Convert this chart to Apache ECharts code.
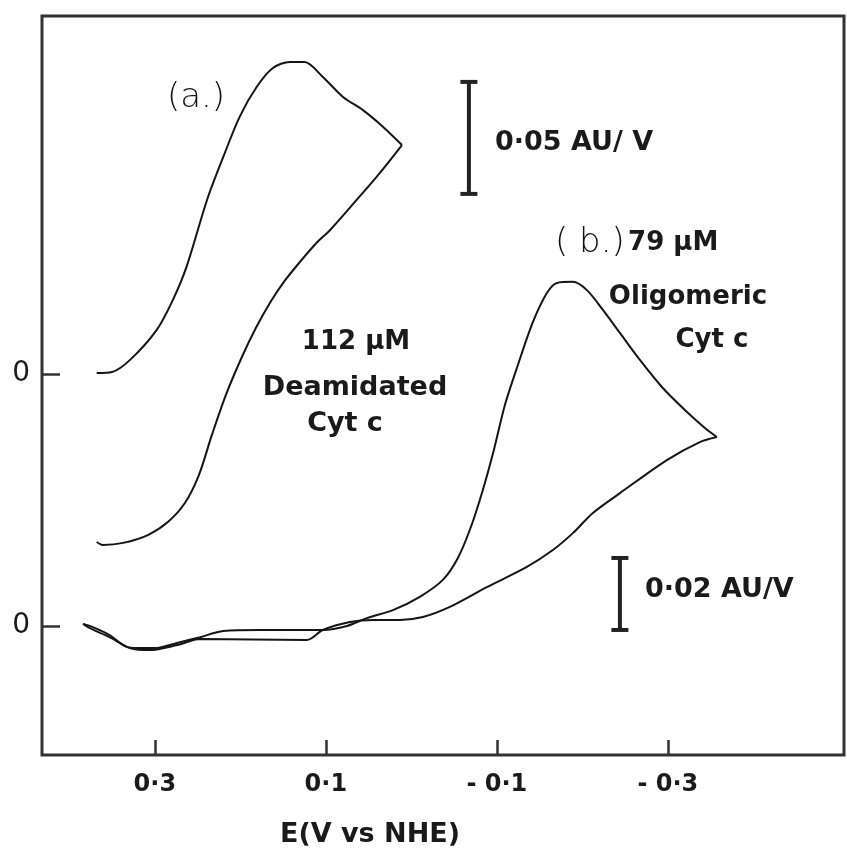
<!DOCTYPE html>
<html>
<head>
<meta charset="utf-8">
<script src="https://cdn.jsdelivr.net/npm/echarts@6/dist/echarts.min.js"></script>
<style>
html,body{margin:0;padding:0;background:#fff;}
#chart{width:847px;height:862px;}
</style>
</head>
<body>
<div id="chart"></div>
<script>
// ---- data (E in V vs NHE, derivative absorbance in AU/V) ----
const potentialTicks = [0.3, 0.1, -0.1, -0.3];
const tickLabels = ['0·3', '0·1', '- 0·1', '- 0·3'];

// (a) 112 uM deamidated cyt c : forward scan (positive -> negative)
const aFwdE = [0.368, 0.350, 0.329, 0.298, 0.279, 0.263, 0.239, 0.220, 0.201, 0.181, 0.162, 0.142, 0.125, 0.1035, 0.080, 0.057, 0.033, 0.011];
const aFwdV = [0.0004, 0.0009, 0.0063, 0.0196, 0.0330, 0.0478, 0.0777, 0.0969, 0.1147, 0.1281, 0.1366, 0.1393, 0.1393, 0.1326, 0.1237, 0.1179, 0.1103, 0.1022];
// (a) return scan
const aRetE = [0.011, 0.037, 0.064, 0.095, 0.111, 0.1304, 0.1491, 0.1655, 0.1819, 0.1982, 0.2170, 0.2333, 0.2485, 0.2649, 0.2848, 0.3082, 0.337, 0.361, 0.368];
const aRetV = [0.1022, 0.0897, 0.0777, 0.0643, 0.0585, 0.0500, 0.0411, 0.0317, 0.0205, 0.0076, -0.0094, -0.0272, -0.0451, -0.0576, -0.0661, -0.0719, -0.0754, -0.0763, -0.0750];

// (b) 79 uM oligomeric cyt c : forward scan
const bFwdE = [0.384, 0.3725, 0.353, 0.333, 0.321, 0.298, 0.274, 0.247, 0.220, 0.177, 0.1035, 0.0754, 0.052, 0.0216, -0.0099, -0.0368, -0.0544, -0.0696, -0.0836, -0.0965, -0.1094, -0.1246, -0.1421, -0.1585, -0.1702, -0.1889, -0.2053, -0.2240, -0.2439, -0.2673, -0.2930, -0.3199, -0.3433, -0.3573];
const bFwdV = [0.0006, -0.0003, -0.0025, -0.0058, -0.0061, -0.0061, -0.0047, -0.0031, -0.0014, -0.0011, -0.0011, 0.0000, 0.0022, 0.0044, 0.0081, 0.0128, 0.0189, 0.0275, 0.0378, 0.0489, 0.0614, 0.0725, 0.0844, 0.0925, 0.0953, 0.0956, 0.0933, 0.0878, 0.0814, 0.0739, 0.0664, 0.0600, 0.0550, 0.0525];
// (b) return scan
const bRetE = [-0.3573, -0.3374, -0.2988, -0.2439, -0.2123, -0.1889, -0.1655, -0.1351, -0.0883, -0.0450, -0.0135, 0.0135, 0.0450, 0.0719, 0.1035, 0.1222, 0.247, 0.274, 0.3058, 0.3292, 0.353, 0.376, 0.384];
const bRetV = [0.0525, 0.0511, 0.0461, 0.0369, 0.0314, 0.0258, 0.0211, 0.0164, 0.0108, 0.0053, 0.0025, 0.0017, 0.0017, 0.0011, -0.0011, -0.0039, -0.0036, -0.0053, -0.0067, -0.0061, -0.0031, -0.0006, 0.0006];

// scale bar lengths (AU/V)
const scaleBarA = 0.05;
const scaleBarB = 0.02;

// ---- build chart ----
function zip(xs, ys) { return xs.map((x, i) => [x, ys[i]]); }

const INK = '#151515';
const FRAME = '#333';
const boldFont = 'DejaVu Sans';

const chart = echarts.init(document.getElementById('chart'));

const curveStyle = { color: INK, width: 2 };
function curve(name, e, v, yIdx) {
  return {
    name: name, type: 'line', xAxisIndex: 0, yAxisIndex: yIdx,
    data: zip(e, v), showSymbol: false, smooth: 0.3,
    lineStyle: curveStyle, silent: true, animation: false
  };
}
function scaleBar(e, v0, len, yIdx) {
  return {
    type: 'line', xAxisIndex: 0, yAxisIndex: yIdx,
    data: [[e, v0], [e, v0 + len]],
    symbol: 'rect', symbolSize: [17, 4], showSymbol: true,
    itemStyle: { color: '#222' },
    lineStyle: { color: '#222', width: 4 }, silent: true, animation: false
  };
}

const yTickCommon = {
  type: 'value', position: 'left', splitLine: { show: false },
  axisLine: { show: false, onZero: false },
  axisTick: { show: true, inside: true, length: 18, customValues: [0], lineStyle: { color: FRAME, width: 2.5 } },
  axisLabel: { customValues: [0], formatter: () => '0', margin: 12, fontSize: 28, fontFamily: 'DejaVu Sans', color: '#1a1a1a' }
};

const option = {
  backgroundColor: '#fff',
  animation: false,
  grid: { left: 42, right: 3, top: 16, bottom: 107, show: true, borderColor: FRAME, borderWidth: 3, backgroundColor: 'transparent' },
  xAxis: {
    type: 'value', inverse: true, min: -0.506, max: 0.432,
    splitLine: { show: false }, axisLine: { show: false, onZero: false },
    axisTick: { show: true, inside: true, length: 15, customValues: potentialTicks, lineStyle: { color: FRAME, width: 2.5 } },
    axisLabel: {
      customValues: potentialTicks, margin: 18,
      formatter: function (v) {
        for (let i = 0; i < potentialTicks.length; i++) if (Math.abs(potentialTicks[i] - v) < 1e-6) return tickLabels[i];
        return '';
      },
      fontSize: 24, fontWeight: 'bold', fontFamily: boldFont, color: '#1a1a1a'
    }
  },
  yAxis: [
    Object.assign({}, yTickCommon, { min: -0.035833, max: 0.169444 }), // (b)
    Object.assign({}, yTickCommon, { min: -0.170089, max: 0.159821 })  // (a)
  ],
  series: [
    curve('a forward', aFwdE, aFwdV, 1),
    curve('a return', aRetE, aRetV, 1),
    curve('b forward', bFwdE, bFwdV, 0),
    curve('b return', bRetE, bRetV, 0),
    scaleBar(-0.0673, 0.0804, scaleBarA, 1),
    scaleBar(-0.2439, -0.0011, scaleBarB, 0)
  ],
  graphic: [
    { type: 'text', x: 196, y: 98, style: { text: '(a.)', font: '300 34px "DejaVu Sans"', fill: '#111', align: 'center', verticalAlign: 'middle' } },
    { type: 'text', x: 495, y: 143, style: { text: '0·05 AU/ V', font: 'bold 27px "DejaVu Sans"', fill: '#1a1a1a', align: 'left', verticalAlign: 'middle' } },
    { type: 'text', x: 555, y: 243, style: {
        text: '{t|( b.)} {b|79 µM}', align: 'left', verticalAlign: 'middle',
        rich: {
          t: { fontSize: 34, fontWeight: 300, fontFamily: 'DejaVu Sans', fill: '#111' },
          b: { fontSize: 26, fontWeight: 'bold', fontFamily: 'DejaVu Sans', fill: '#1a1a1a' }
        }
    } },
    { type: 'text', x: 688, y: 297, style: { text: 'Oligomeric', font: 'bold 26px "DejaVu Sans"', fill: '#1a1a1a', align: 'center', verticalAlign: 'middle' } },
    { type: 'text', x: 712, y: 340, style: { text: 'Cyt c', font: 'bold 26px "DejaVu Sans"', fill: '#1a1a1a', align: 'center', verticalAlign: 'middle' } },
    { type: 'text', x: 356, y: 342, style: { text: '112 µM', font: 'bold 26px "DejaVu Sans"', fill: '#1a1a1a', align: 'center', verticalAlign: 'middle' } },
    { type: 'text', x: 355, y: 388, style: { text: 'Deamidated', font: 'bold 27px "DejaVu Sans"', fill: '#1a1a1a', align: 'center', verticalAlign: 'middle' } },
    { type: 'text', x: 345, y: 424, style: { text: 'Cyt c', font: 'bold 27px "DejaVu Sans"', fill: '#1a1a1a', align: 'center', verticalAlign: 'middle' } },
    { type: 'text', x: 645, y: 590, style: { text: '0·02 AU/V', font: 'bold 27px "DejaVu Sans"', fill: '#1a1a1a', align: 'left', verticalAlign: 'middle' } },
    { type: 'text', x: 370, y: 835, style: { text: 'E(V vs NHE)', font: 'bold 27px "DejaVu Sans"', fill: '#1a1a1a', align: 'center', verticalAlign: 'middle' } }
  ]
};

chart.setOption(option);
</script>
</body>
</html>
